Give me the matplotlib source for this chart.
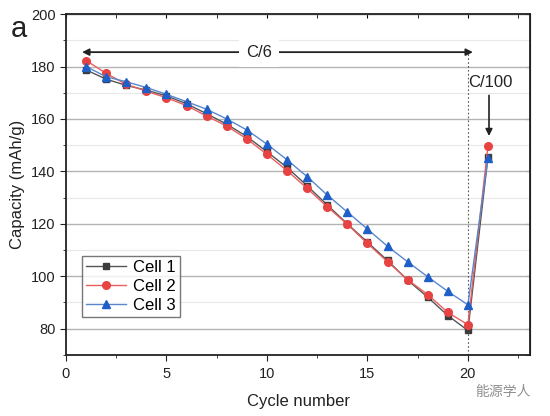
import numpy as np
import matplotlib.pyplot as plt
from matplotlib.ticker import MultipleLocator

plt.rcParams['font.family'] = ['Liberation Sans', 'DejaVu Sans']

cycles = list(range(1, 22))
cell1 = [178.7, 175.2, 172.8, 171.0, 168.8, 165.8, 162.0, 158.0, 153.3, 147.5, 141.5,
         134.5, 127.2, 120.0, 113.0, 106.0, 98.5, 92.0, 85.0, 79.3, 145.6]
cell2 = [182.3, 177.4, 173.2, 170.6, 168.1, 165.1, 161.1, 157.3, 152.4, 146.5, 140.3,
         133.5, 126.5, 119.8, 112.5, 105.5, 98.7, 93.0, 86.2, 81.5, 149.8]
cell3 = [180.0, 176.1, 174.2, 172.0, 169.4, 166.6, 163.7, 160.0, 155.8, 150.4, 144.4,
         138.0, 131.0, 124.5, 118.0, 111.4, 105.5, 99.8, 94.2, 89.1, 145.2]

fig = plt.figure(figsize=(5.5, 4.16), dpi=100)
ax = fig.add_axes([0.12, 0.147, 0.844, 0.819])

ax.plot(cycles, cell1, color="#555555", lw=1, marker="s", ms=5,
        mfc="#3c3c3c", mec="#3c3c3c", label="Cell 1", zorder=3)
ax.plot(cycles, cell2, color="#e86060", lw=1, marker="o", ms=5.5,
        mfc="#e84343", mec="#e84343", label="Cell 2", zorder=3)
ax.plot(cycles, cell3, color="#5a86cc", lw=1, marker="^", ms=6,
        mfc="#1f5fc8", mec="#1f5fc8", label="Cell 3", zorder=3)

ax.set_xlim(0, 23.1)
ax.set_ylim(70, 200)
ax.xaxis.set_major_locator(MultipleLocator(5))
ax.xaxis.set_minor_locator(MultipleLocator(2.5))
ax.yaxis.set_minor_locator(MultipleLocator(10))
ax.set_yticks([80, 100, 120, 140, 160, 180, 200])
ax.grid(True, which="major", axis="y", color="#b4b4b4", lw=1)
ax.grid(True, which="minor", axis="y", color="#e8e8e8", lw=0.8)
ax.set_axisbelow(True)

ax.tick_params(which="both", direction="out", labelsize=10.5, colors="#222222")
ax.tick_params(which="major", length=4)
ax.tick_params(which="minor", length=2.5)
ax.tick_params(axis="x", pad=5)
for s in ax.spines.values():
    s.set_linewidth(1.3)
    s.set_color("#222222")

# mirrored inward ticks on top and right
top = ax.secondary_xaxis("top")
top.set_xticks(np.arange(0, 23.1, 5))
top.xaxis.set_minor_locator(MultipleLocator(2.5))
top.tick_params(which="both", direction="in", labeltop=False, length=3)
right = ax.secondary_yaxis("right")
right.set_yticks(np.arange(80, 201, 20))
right.yaxis.set_minor_locator(MultipleLocator(10))
right.tick_params(which="both", direction="in", labelright=False, length=3)

ax.set_xlabel("Cycle number", fontsize=12, color="#222222", labelpad=9)
ax.set_ylabel("Capacity (mAh/g)", fontsize=12, color="#222222")

# C/6 arrow
ax.annotate("", xy=(0.8, 185.5), xytext=(20.25, 185.5),
            arrowprops=dict(arrowstyle="<|-|>", color="#222222", lw=1.3,
                            mutation_scale=10, shrinkA=0, shrinkB=0))
ax.text(9.6, 185.5, "C/6", ha="center", va="center", fontsize=12,
        color="#222222", bbox=dict(fc="white", ec="none", pad=5))
ax.plot([20, 20], [70, 185.5], ls=(0, (1.5, 2)), color="#555555", lw=0.8, zorder=2)

# C/100 arrow
ax.text(21.1, 174, "C/100", ha="center", va="center", fontsize=12, color="#222222")
ax.annotate("", xy=(21.05, 153.5), xytext=(21.05, 169),
            arrowprops=dict(arrowstyle="-|>", color="#222222", lw=1.2,
                            mutation_scale=10, shrinkA=0, shrinkB=0))

leg = ax.legend(loc="lower left", bbox_to_anchor=(0.035, 0.11), fontsize=12,
                frameon=True, fancybox=False, edgecolor="#555555",
                handlelength=2.4, borderpad=0.25, labelspacing=0.25,
                handletextpad=0.4, borderaxespad=0)
leg.get_frame().set_linewidth(1)

fig.text(0.02, 0.965, "a", fontsize=21, va="top", ha="left", color="#222222")
fig.text(0.965, 0.057, "能源学人", fontsize=10, ha="right", va="center",
         color="#909090", family=["Noto Sans CJK SC", "DejaVu Sans"])

fig.savefig("out.png", dpi=100)
